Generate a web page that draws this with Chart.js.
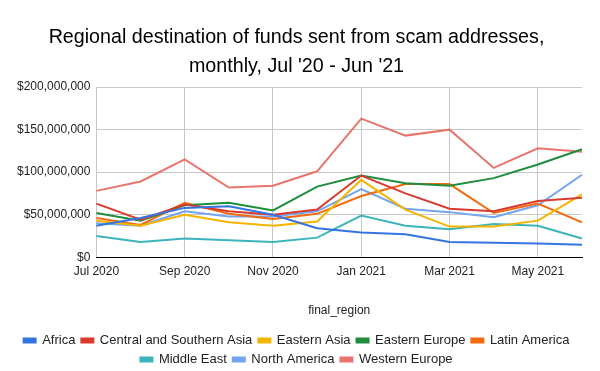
<!DOCTYPE html>
<html>
<head>
<meta charset="utf-8">
<script src="https://cdn.jsdelivr.net/npm/chart.js@4"></script>
<style>
  html, body { margin: 0; padding: 0; background: #fff; }
  #wrap { width: 600px; height: 371px; position: relative; }
</style>
</head>
<body>
<div id="wrap"><canvas id="c" width="600" height="371"></canvas></div>
<script>
const months = ['Jul 2020','Aug 2020','Sep 2020','Oct 2020','Nov 2020','Dec 2020','Jan 2021','Feb 2021','Mar 2021','Apr 2021','May 2021','Jun 2021'];
const yTicks = [0, 50000000, 100000000, 150000000, 200000000];

const africa          = [37e6, 46e6, 58e6, 60e6, 50e6, 34e6, 29e6, 27e6, 18e6, 17e6, 16e6, 14.6e6];
const centralSouthAsia= [63e6, 44e6, 62e6, 54e6, 50e6, 56e6, 96e6, 75e6, 57e6, 54e6, 66e6, 70e6];
const easternAsia     = [43e6, 37e6, 50e6, 41e6, 37e6, 42e6, 91e6, 56e6, 36e6, 36e6, 43e6, 74e6];
const easternEurope   = [52e6, 43e6, 61e6, 64e6, 55e6, 83e6, 96e6, 87e6, 84e6, 93e6, 109e6, 127e6];
const latinAmerica    = [46e6, 38e6, 64e6, 51e6, 45e6, 51e6, 72e6, 86e6, 86e6, 52e6, 63e6, 41e6];
const middleEast      = [25e6, 18e6, 22e6, 20e6, 18e6, 23e6, 49e6, 37e6, 33e6, 39e6, 37e6, 22e6];
const northAmerica    = [40e6, 37e6, 54e6, 48e6, 48e6, 54e6, 80e6, 57e6, 53e6, 47e6, 61e6, 97e6];
const westernEurope   = [78e6, 89e6, 115e6, 82e6, 84e6, 101e6, 163e6, 143e6, 150e6, 105e6, 128e6, 124e6];

const seriesNames = ['Africa','Central and Southern Asia','Eastern Asia','Eastern Europe','Latin America','Middle East','North America','Western Europe'];
const seriesData = [africa, centralSouthAsia, easternAsia, easternEurope, latinAmerica, middleEast, northAmerica, westernEurope];
const colors = ['#3474e0','#d83a2d','#f4b400','#1e8e3e','#f26b0f','#3cb4bc','#74a3f0','#e8756c'];

const datasets = seriesNames.map((n, i) => ({
  label: n,
  data: seriesData[i],
  borderColor: colors[i],
  backgroundColor: colors[i],
  borderWidth: 2,
  pointRadius: 0,
  tension: 0,
  fill: false
}));

const FONT = 'Arial, "Liberation Sans", sans-serif';
Chart.defaults.font.family = FONT;

new Chart(document.getElementById('c'), {
  type: 'line',
  data: { labels: months, datasets },
  options: {
    responsive: false,
    animation: false,
    layout: { padding: { left: 11, right: 18, top: 0, bottom: -5 } },
    plugins: {
      title: {
        display: true,
        text: ['Regional destination of funds sent from scam addresses,', "monthly, Jul '20 - Jun '21"],
        color: '#000',
        font: { size: 19.7, weight: 'normal', family: FONT, lineHeight: 1.45 },
        padding: { top: 23.5, bottom: 6.5 }
      },
      legend: {
        position: 'bottom',
        labels: {
          color: '#222',
          font: { size: 13, family: FONT },
          boxWidth: 12,
          boxHeight: 4,
          padding: 6
        }
      },
      tooltip: { enabled: false }
    },
    scales: {
      x: {
        type: 'category',
        offset: false,
        grid: {
          color: (ctx) => (ctx.index % 2 === 0 ? '#c8c8c8' : 'rgba(0,0,0,0)'),
          drawTicks: false
        },
        border: { color: '#000', width: 1 },
        ticks: {
          autoSkip: false,
          maxRotation: 0,
          color: '#222',
          font: { size: 12, family: FONT },
          padding: 7,
          callback: function(v, i) { return i % 2 === 0 ? this.getLabelForValue(v) : ''; }
        },
        title: {
          display: true,
          text: 'final_region',
          color: '#222',
          font: { size: 12, family: FONT },
          padding: { top: 18, bottom: 10 }
        }
      },
      y: {
        min: 0,
        max: 200000000,
        afterBuildTicks: (axis) => { axis.ticks = yTicks.map(v => ({ value: v })); },
        grid: { color: '#c8c8c8', drawTicks: false },
        border: { display: false },
        ticks: {
          color: '#222',
          font: { size: 12, family: FONT },
          padding: 6,
          callback: (v) => '$' + Number(v).toLocaleString('en-US')
        }
      }
    }
  }
});
</script>
</body>
</html>
